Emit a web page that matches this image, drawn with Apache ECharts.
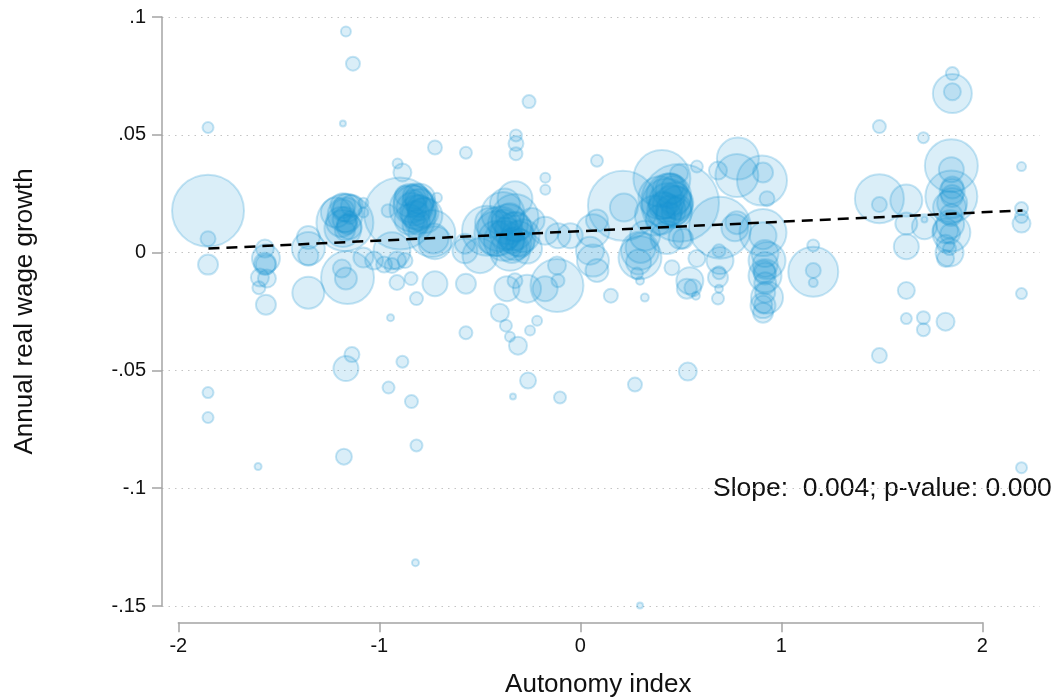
<!DOCTYPE html>
<html><head><meta charset="utf-8">
<script src="https://cdn.jsdelivr.net/npm/echarts@6/dist/echarts.min.js"></script>
<style>html,body{margin:0;padding:0;background:#fff}#c{width:1056px;height:698px}</style>
</head><body><div id="c"></div>
<script>
// Bubble data: autonomy index (x), annual real wage growth (y), bubble weight (diameter)
const autonomy = [
-1.852,-1.852,-1.852,-1.852,-1.852,-1.852,-1.603,
-1.564,-1.569,-1.569,-1.594,-1.559,-1.599,-1.564,-1.565,
-1.353,-1.353,-1.353,-1.353,
-1.171,-1.181,-1.181,-1.171,-1.146,-1.158,-1.186,-1.166,-1.079,-1.079,-1.079,-1.166,-1.131,-1.181,-1.136,-1.166,-1.176,-1.216,-1.136,
-1.170,-1.160,-1.190,-1.150,-1.170,-1.180,-1.160,
-1.026,-0.976,-0.956,-0.909,-0.885,-0.897,-0.832,-0.847,-0.738,-0.723,-0.937,-0.912,-0.937,-0.872,-0.713,-0.723,-0.569,-0.723,-0.569,-0.842,-0.912,-0.815,-0.944,-0.885,-0.954,-0.840,-0.815,-0.820,-0.569,-0.574,-0.574,-0.797,-0.773,-0.822,-0.872,
-0.830,-0.810,-0.850,-0.800,-0.820,-0.730,
-0.840,-0.820,-0.800,-0.830,-0.810,-0.780,
-0.464,-0.415,-0.325,-0.375,-0.385,-0.325,-0.285,-0.325,-0.350,-0.265,-0.240,-0.175,-0.111,-0.116,-0.111,-0.175,-0.116,-0.265,-0.365,-0.325,-0.400,-0.215,-0.320,-0.320,-0.320,-0.174,-0.174,-0.255,-0.370,-0.350,-0.310,-0.250,-0.260,-0.335,-0.101,-0.050,-0.449,-0.499,
-0.360,-0.330,-0.310,-0.380,-0.340,-0.400,
-0.370,-0.320,-0.350,-0.300,-0.420,-0.340,-0.380,
0.063,0.083,0.063,0.083,0.048,0.083,0.152,
0.212,0.217,0.406,0.496,0.491,0.580,0.431,0.396,0.480,0.496,0.297,0.297,0.282,0.297,0.456,0.580,0.545,0.560,0.575,0.321,0.431,0.511,0.272,0.535,0.297,0.530,0.371,0.446,0.322,
0.440,0.460,0.420,0.480,0.450,0.400,0.300,0.290,
0.430,0.470,0.450,0.410,0.490,0.440,0.460,
0.695,0.685,0.784,0.779,0.779,0.769,0.690,0.690,0.695,0.685,0.690,0.685,
0.904,0.909,0.929,0.909,0.909,0.919,0.929,0.919,0.919,0.929,0.909,0.909,
0.920,0.920,0.910,0.915,0.920,
1.159,1.159,1.159,1.159,
1.488,1.488,1.488,1.488,1.622,1.622,1.622,1.622,1.622,
1.707,1.712,1.712,1.707,1.707,
1.851,1.851,1.851,1.846,1.846,1.851,1.846,1.837,1.846,1.817,1.817,1.837,1.817,1.837,1.817,
1.850,1.850,1.840,1.850,1.845,1.840,
2.195,2.195,2.195,2.195,2.195,2.195
];
const wageGrowth = [
0.0178,0.0059,-0.0051,0.0531,-0.0594,-0.0700,-0.0908,
-0.0025,-0.0047,0.0017,-0.0106,-0.0110,-0.0149,-0.0221,-0.0050,
0.0064,0.0017,-0.0013,-0.0170,
0.0127,0.0199,0.0102,0.0093,0.0149,-0.0106,-0.0068,-0.0110,0.0212,0.0170,-0.0021,0.0938,0.0802,0.0548,-0.0433,-0.0492,-0.0866,0.0170,0.0199,
0.0160,0.0190,0.0130,0.0110,0.0140,0.0180,0.0120,
-0.0034,-0.0051,0.0178,0.0378,0.0340,0.0166,0.0187,0.0221,0.0081,0.0042,0.0008,-0.0034,-0.0055,-0.0034,0.0233,0.0446,0.0424,-0.0132,-0.0132,-0.0110,-0.0127,-0.0195,-0.0276,-0.0463,-0.0573,-0.0632,-0.0819,-0.1316,-0.0340,0.0008,0.0038,0.0229,0.0157,0.0115,0.0242,
0.0200,0.0170,0.0140,0.0210,0.0240,0.0060,
0.0190,0.0160,0.0190,0.0220,0.0130,0.0170,
0.0093,0.0081,0.0229,0.0208,0.0166,0.0149,0.0072,0.0038,0.0008,0.0017,0.0136,0.0093,0.0072,-0.0055,-0.0119,-0.0153,-0.0140,-0.0153,-0.0153,-0.0119,-0.0255,-0.0289,0.0497,0.0463,0.0420,0.0318,0.0267,0.0641,-0.0310,-0.0357,-0.0395,-0.0331,-0.0543,-0.0611,-0.0615,0.0072,0.0127,-0.0013,
0.0120,0.0090,0.0060,0.0050,0.0020,0.0100,
0.0080,0.0110,0.0150,0.0040,0.0060,0.0050,0.0130,
0.0093,0.0136,-0.0034,-0.0076,0.0008,0.0390,-0.0183,
0.0199,0.0191,0.0314,0.0212,0.0335,0.0365,0.0208,0.0233,0.0212,0.0064,0.0008,-0.0021,-0.0089,-0.0119,-0.0064,-0.0025,-0.0119,-0.0149,-0.0183,-0.0191,0.0064,0.0059,-0.0560,-0.0505,-0.1498,-0.0153,0.0157,0.0263,0.0072,
0.0240,0.0200,0.0180,0.0170,0.0270,0.0140,0.0020,-0.0040,
0.0220,0.0230,0.0180,0.0200,0.0190,0.0160,0.0280,
0.0106,0.0348,0.0399,0.0327,0.0127,0.0106,0.0008,-0.0085,-0.0034,-0.0106,-0.0153,-0.0195,
0.0306,0.0340,0.0229,0.0085,0.0072,-0.0004,-0.0034,-0.0098,-0.0089,-0.0191,-0.0225,-0.0255,
-0.0050,-0.0130,-0.0220,-0.0080,-0.0170,
0.0030,-0.0081,-0.0076,-0.0127,
0.0535,0.0229,0.0204,-0.0437,0.0221,0.0123,0.0025,-0.0161,-0.0280,
0.0488,0.0140,0.0110,-0.0276,-0.0327,
0.0760,0.0675,0.0683,0.0369,0.0352,0.0276,0.0238,0.0191,0.0085,0.0093,0.0038,0.0000,-0.0025,0.0017,-0.0293,
0.0210,0.0260,0.0120,0.0240,0.0160,0.0080,
0.0365,0.0187,0.0153,0.0123,-0.0174,-0.0913
];
const bubbleSize = [
72,15,20,11,11,11,7,
28,22,18,18,18,13,20,20,
23,33,20,32,
57,25,37,20,13,53,18,22,10,10,20,10,14,6,15,25,16,30,22,
35,28,30,25,25,22,20,
18,16,13,10,18,72,47,33,47,33,37,18,15,15,10,14,12,25,20,13,15,13,7,12,12,13,12,7,13,25,20,30,35,25,20,
40,35,30,28,25,30,
30,28,25,22,25,30,
50,45,35,30,43,47,33,33,40,30,25,28,25,18,13,25,53,28,25,15,18,10,12,15,13,10,10,13,12,10,18,10,16,6,12,25,30,35,
40,38,35,40,30,45,
32,30,28,28,35,25,25,
33,22,32,23,28,12,14,
70,28,57,78,18,12,50,43,33,23,38,43,12,8,15,17,27,17,8,8,33,20,14,18,6,20,40,35,30,
45,40,35,30,30,30,30,25,
35,32,30,28,25,25,22,
62,18,42,43,23,27,13,13,27,20,8,12,
50,20,15,47,27,27,37,33,22,32,25,20,
25,22,18,22,20,
12,50,15,9,
13,49,15,15,32,22,25,17,11,
11,6,25,13,13,
13,39,17,53,25,22,52,33,38,25,18,28,17,13,18,
30,25,28,22,22,20,
9,13,13,18,11,11
];
// Fitted line
const fitX = [-1.85, 2.2];
const fitY = [0.0017, 0.0179];
// Tick labels
const yTickLabels = ['-.15', '-.1', '-.05', '0', '.05', '.1'];
const slopeText = 'Slope:  0.004; p-value: 0.000';

const FONT = '"Liberation Sans", Arial, Helvetica, sans-serif';
const bubbles = autonomy.map((x, i) => [x, wageGrowth[i], bubbleSize[i]]);
const fitLine = fitX.map((x, i) => [x, fitY[i]]);

const chart = echarts.init(document.getElementById('c'), null, {renderer: 'canvas'});
chart.setOption({
  animation: false,
  backgroundColor: '#ffffff',
  textStyle: {fontFamily: FONT},
  grid: [
    {left: 162, top: 17, width: 878, height: 589},
    {left: 178.3, top: 622, width: 804, height: 1}
  ],
  xAxis: [
    {gridIndex: 0, type: 'value', min: -2.081, max: 2.287, show: false},
    {gridIndex: 1, type: 'value', min: -2, max: 2, interval: 1,
     name: 'Autonomy index', nameLocation: 'middle', nameGap: 50,
     nameTextStyle: {fontSize: 26, color: '#111', fontFamily: FONT, padding: [0, 0, 0, 36]},
     axisLine: {show: true, onZero: false, lineStyle: {color: '#a4a4a4', width: 1.5}},
     axisTick: {show: true, length: 10, lineStyle: {color: '#a4a4a4', width: 1.5}},
     axisLabel: {fontSize: 20, color: '#111', margin: 14, fontFamily: FONT,
       formatter: v => String(v)},
     splitLine: {show: false}}
  ],
  yAxis: [
    {gridIndex: 0, type: 'value', min: -0.15, max: 0.1, interval: 0.05,
     name: 'Annual real wage growth', nameLocation: 'middle', nameGap: 124,
     nameTextStyle: {fontSize: 26, color: '#111', fontFamily: FONT},
     axisLine: {show: true, onZero: false, lineStyle: {color: '#a4a4a4', width: 1.5}},
     axisTick: {show: true, length: 10, lineStyle: {color: '#a4a4a4', width: 1.5}},
     axisLabel: {fontSize: 20, color: '#111', margin: 16, fontFamily: FONT,
       formatter: (v, i) => yTickLabels[i]},
     splitLine: {show: true, lineStyle: {color: '#c4c4c4', width: 1, type: [1.5, 5]}}},
    {gridIndex: 1, type: 'value', show: false, min: 0, max: 1}
  ],
  series: [
    {type: 'scatter', xAxisIndex: 0, yAxisIndex: 0, data: bubbles, clip: false,
     symbolSize: v => v[2],
     itemStyle: {color: 'rgba(26,150,210,0.2)', borderColor: 'rgba(26,150,210,0.3)', borderWidth: 2},
     emphasis: {disabled: true}},
    {type: 'line', xAxisIndex: 0, yAxisIndex: 0, data: fitLine, symbol: 'none',
     lineStyle: {color: '#000', width: 2.5, type: [11, 7]}, z: 5}
  ],
  graphic: [
    {type: 'text', left: 713, top: 475,
     style: {text: slopeText, font: '26.5px ' + FONT, fill: '#111'}}
  ]
});
</script></body></html>
